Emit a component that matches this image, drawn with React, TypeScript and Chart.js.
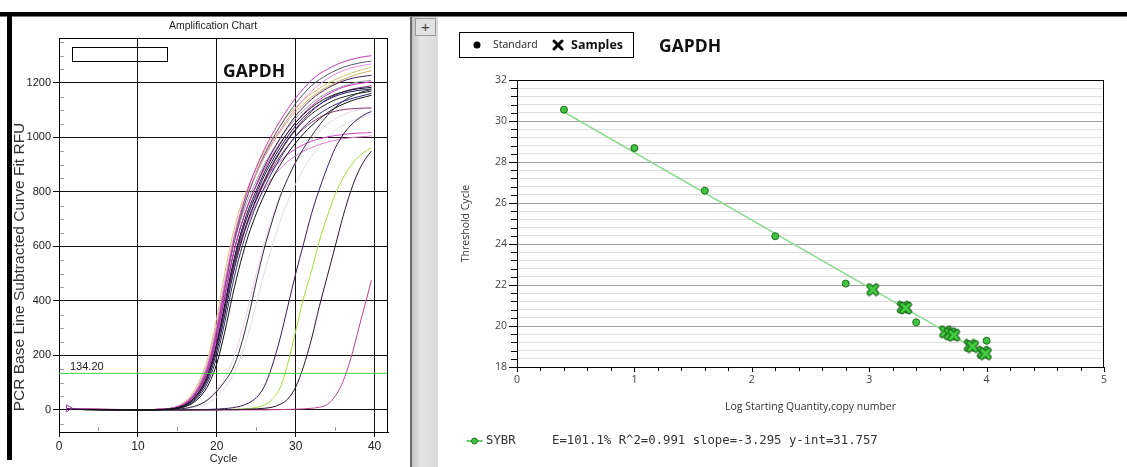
import React, { useEffect, useRef } from 'react';
import { Chart, registerables } from 'chart.js';

Chart.register(...registerables);

// ================= Amplification chart (left) =================
const cycles = [1, 10, 14, 15, 16, 17, 18, 19, 20, 21, 22, 23, 24, 25, 26, 27, 28, 29, 30, 31, 32, 33, 34, 35, 36, 37, 38, 39, 39.6];
const thresholdRFU = 134.2;
const ampXRange = [0, 41.7];
const ampYRange = [-81, 1365];
const startMarker = [{ x: 1.2, y: 6 }];

// early cluster (Ct ~18-22)
const tanEarly = [4, 1, 6, 14, 32, 65, 120, 205, 340, 500, 640, 745, 820, 885, 945, 995, 1040, 1080, 1110, 1138, 1160, 1180, 1198, 1212, 1225, 1236, 1245, 1253, 1258];
const tanSecond = [3, 1, 5, 12, 28, 57, 105, 180, 305, 460, 605, 715, 795, 865, 925, 975, 1020, 1060, 1095, 1122, 1148, 1168, 1186, 1200, 1213, 1224, 1234, 1241, 1245];
const magentaTop = [5, 1, 5, 11, 25, 52, 98, 172, 295, 450, 600, 720, 815, 890, 955, 1010, 1060, 1105, 1145, 1180, 1210, 1233, 1250, 1265, 1277, 1286, 1293, 1298, 1300];
const grayDark = [3, 1, 4, 10, 24, 50, 95, 170, 290, 440, 590, 705, 795, 870, 935, 990, 1040, 1085, 1125, 1160, 1190, 1212, 1230, 1245, 1257, 1266, 1273, 1278, 1280];
const purpleDark = [2, 1, 4, 10, 22, 46, 88, 155, 270, 415, 560, 670, 755, 825, 890, 945, 995, 1040, 1080, 1112, 1140, 1162, 1180, 1195, 1207, 1216, 1222, 1226, 1228];
const grayLight = [3, 1, 5, 12, 27, 55, 102, 178, 300, 450, 590, 695, 775, 840, 900, 950, 995, 1035, 1070, 1100, 1125, 1146, 1163, 1177, 1188, 1197, 1204, 1208, 1210];
const black1 = [2, 0, 3, 8, 19, 40, 78, 140, 245, 385, 530, 645, 735, 805, 870, 925, 975, 1018, 1055, 1085, 1110, 1130, 1146, 1158, 1167, 1174, 1179, 1182, 1184];
const navy1 = [2, 0, 3, 8, 18, 38, 74, 133, 233, 370, 515, 630, 720, 792, 858, 912, 962, 1005, 1043, 1075, 1100, 1121, 1138, 1151, 1161, 1168, 1173, 1176, 1178];
const black2 = [2, 0, 3, 7, 16, 34, 67, 122, 215, 345, 490, 605, 698, 772, 838, 895, 945, 990, 1028, 1060, 1086, 1107, 1124, 1138, 1148, 1156, 1162, 1167, 1170];
const navy2 = [2, 0, 2, 6, 14, 30, 60, 110, 195, 320, 460, 578, 672, 750, 815, 872, 922, 967, 1005, 1038, 1065, 1087, 1105, 1120, 1132, 1142, 1150, 1157, 1162];
const black3 = [2, 0, 2, 5, 12, 26, 52, 96, 170, 285, 420, 540, 640, 720, 788, 847, 898, 942, 980, 1014, 1043, 1068, 1090, 1108, 1122, 1134, 1143, 1150, 1155];
const darkLate = [2, 0, 1, 3, 6, 12, 22, 40, 68, 105, 150, 230, 340, 470, 590, 690, 780, 850, 910, 960, 1005, 1045, 1080, 1110, 1133, 1150, 1163, 1172, 1176];
const magenta1018 = [3, 1, 4, 9, 20, 42, 80, 145, 250, 390, 530, 640, 720, 785, 840, 880, 912, 938, 958, 974, 986, 995, 1002, 1007, 1011, 1014, 1016, 1017, 1018];
const pink1005 = [3, 1, 4, 8, 18, 38, 72, 130, 228, 360, 495, 605, 690, 755, 808, 850, 885, 912, 933, 950, 963, 974, 983, 990, 995, 999, 1002, 1004, 1006];
const plum1108 = [3, 1, 4, 9, 20, 42, 80, 142, 240, 370, 505, 615, 700, 770, 832, 885, 930, 970, 1004, 1032, 1055, 1073, 1087, 1096, 1102, 1105, 1107, 1108, 1108];
const magenta1204 = [3, 1, 5, 11, 24, 50, 92, 160, 270, 415, 560, 670, 755, 822, 882, 932, 978, 1018, 1055, 1088, 1115, 1138, 1157, 1172, 1184, 1192, 1198, 1202, 1204];
const pink1270 = [3, 1, 5, 12, 28, 58, 108, 188, 315, 470, 615, 725, 805, 870, 928, 980, 1026, 1068, 1105, 1140, 1170, 1195, 1215, 1232, 1245, 1255, 1262, 1267, 1270];
const purple1190 = [2, 1, 3, 8, 18, 38, 72, 130, 225, 360, 500, 612, 700, 775, 842, 900, 950, 994, 1032, 1066, 1095, 1120, 1140, 1155, 1167, 1176, 1182, 1187, 1190];
const faintPink = [2, 0, 1, 3, 6, 12, 24, 44, 75, 120, 180, 270, 380, 500, 610, 705, 785, 850, 905, 950, 990, 1022, 1048, 1068, 1083, 1094, 1102, 1108, 1112];
const faintGray = [2, 0, 1, 2, 4, 8, 15, 28, 48, 80, 125, 190, 280, 390, 500, 600, 690, 765, 830, 885, 930, 968, 1000, 1025, 1045, 1060, 1072, 1080, 1085];
// late curves
const latePurple = [3, 0, 0, 0, 0, 1, 1, 2, 3, 5, 8, 14, 25, 45, 85, 160, 260, 380, 500, 610, 720, 810, 890, 960, 1010, 1045, 1070, 1088, 1095];
const lateGreen = [2, 0, 0, 0, 0, 0, 0, 0, 1, 1, 2, 3, 5, 9, 18, 38, 80, 170, 290, 410, 510, 620, 710, 790, 850, 897, 930, 952, 962];
const lateDark = [2, 0, 0, 0, 0, 0, 0, 0, 0, 1, 1, 2, 3, 4, 6, 10, 20, 40, 84, 160, 260, 380, 490, 600, 710, 805, 878, 928, 950];
const lateMagenta = [2, 0, 0, 0, 0, 0, 0, 0, 0, 0, 0, 0, 0, 0, 0, 1, 1, 2, 3, 4, 6, 10, 20, 50, 105, 190, 300, 410, 476];

// drawing order (first = on top)
const ampCurves = [black1, black3, black2, navy1, navy2, darkLate, latePurple, lateDark, lateMagenta, lateGreen,
  magenta1018, pink1005, magentaTop, magenta1204, pink1270, plum1108, purple1190, purpleDark, grayDark,
  tanEarly, tanSecond, grayLight, faintPink, faintGray];
const ampColors = ['#141414', '#0e0e0e', '#222222', '#1e1e66', '#2a2a78', '#2e2e3e', '#3c1a56', '#2c1630', '#c0448e', '#a2de3a',
  '#d244c8', '#e27ad6', '#c43cb4', '#cc2ec0', '#e48ae0', '#8e3a6e', '#6e2a86', '#4b1d5e', '#555566',
  '#d8c070', '#c9b45a', '#9a9aaa', '#ecd2e8', '#dcdce8'];

// ================= Standard curve (right) =================
const standardLogQty = [0.4, 1.0, 1.6, 2.2, 2.8, 3.4, 4.0];
const standardCt = [30.55, 28.68, 26.6, 24.38, 22.07, 20.18, 19.28];
const sampleLogQty = [3.03, 3.29, 3.31, 3.65, 3.69, 3.72, 3.86, 3.88, 3.97, 3.99];
const sampleCt = [21.78, 20.92, 20.88, 19.72, 19.62, 19.55, 19.05, 19.0, 18.72, 18.65];
const fitLogQty = [0.4, 4.0];
const fitCt = [30.44, 18.58];
const stdXRange = [0, 5];
const stdYRange = [18, 32];
const fitText = 'E=101.1% R^2=0.991 slope=-3.295 y-int=31.757';

const LF = '"Liberation Sans", Arial, sans-serif';
const RF = '"Open Sans", sans-serif';
const MONO = '"DejaVu Sans Mono", monospace';

const isInt = (v: number) => Math.abs(v - Math.round(v)) < 1e-6;
const isEvenInt = (v: number) => isInt(v) && Math.round(v) % 2 === 0;

function AmpChart() {
  const ref = useRef<HTMLCanvasElement>(null);
  useEffect(() => {
    const datasets: any[] = [];
    datasets.push({
      data: [{ x: ampXRange[0], y: thresholdRFU }, { x: ampXRange[1], y: thresholdRFU }],
      borderColor: '#45d045', borderWidth: 1, pointRadius: 0, tension: 0,
    });
    datasets.push({
      data: startMarker, showLine: false, pointStyle: 'triangle', rotation: 90, pointRadius: 4,
      borderColor: '#9a3aa8', backgroundColor: 'rgba(0,0,0,0)', borderWidth: 1,
    });
    ampCurves.forEach((vals, i) => {
      datasets.push({
        data: vals.map((v, j) => ({ x: cycles[j], y: v })),
        borderColor: ampColors[i], borderWidth: 1, pointRadius: 0,
        cubicInterpolationMode: 'monotone',
      });
    });
    const decor = {
      id: 'ampDecor',
      afterDraw(chart: any) {
        const { ctx, chartArea: a, scales } = chart;
        const x = scales.x, y = scales.y;
        ctx.save();
        ctx.strokeStyle = '#000';
        ctx.lineWidth = 1;
        ctx.beginPath();
        ctx.moveTo(a.left, a.top + 0.5); ctx.lineTo(a.right, a.top + 0.5);
        ctx.moveTo(a.right - 0.5, a.top); ctx.lineTo(a.right - 0.5, a.bottom);
        ctx.stroke();
        // minor ticks
        ctx.strokeStyle = '#9a9a9a';
        ctx.beginPath();
        for (let v = Math.ceil(y.min / 50) * 50; v <= y.max; v += 50) {
          if (v % 200 === 0) continue;
          const py = Math.round(y.getPixelForValue(v)) + 0.5;
          ctx.moveTo(a.left + 1, py); ctx.lineTo(a.left + 5, py);
        }
        for (let v = 5; v < x.max; v += 10) {
          const px = Math.round(x.getPixelForValue(v)) + 0.5;
          ctx.moveTo(px, a.bottom - 1); ctx.lineTo(px, a.bottom - 5);
        }
        ctx.stroke();
        // threshold label
        ctx.fillStyle = '#222';
        ctx.font = `11px ${LF}`;
        ctx.textAlign = 'left';
        ctx.textBaseline = 'bottom';
        ctx.fillText(thresholdRFU.toFixed(2), a.left + 11, y.getPixelForValue(thresholdRFU) - 1);
        // title
        ctx.textAlign = 'center';
        ctx.textBaseline = 'middle';
        ctx.font = `10.5px ${LF}`;
        ctx.fillText('Amplification Chart', 201, 9);
        // empty legend rect
        ctx.strokeStyle = '#000';
        ctx.strokeRect(60.5, 30.5, 95, 14);
        // GAPDH
        ctx.fillStyle = '#111';
        ctx.font = `bold 17.5px ${RF}`;
        ctx.fillText('GAPDH', 242, 55);
        // axis titles
        ctx.fillStyle = '#222';
        ctx.font = `11px ${LF}`;
        ctx.fillText('Cycle', (a.left + a.right) / 2, 442);
        ctx.translate(7.5, 250);
        ctx.rotate(-Math.PI / 2);
        ctx.fillStyle = '#333';
        ctx.textBaseline = 'middle';
        ctx.font = `15.5px ${LF}`;
        ctx.fillText('PCR Base Line Subtracted Curve Fit RFU', 0, 0);
        ctx.restore();
      },
    };
    const chart = new Chart(ref.current!, {
      type: 'line',
      data: { datasets },
      options: {
        animation: false,
        responsive: false,
        maintainAspectRatio: false,
        layout: { padding: { top: 21, right: 20, left: 0, bottom: 0 } },
        plugins: { legend: { display: false }, tooltip: { enabled: false } },
        scales: {
          x: {
            type: 'linear', min: ampXRange[0], max: ampXRange[1],
            afterFit: (s: any) => { s.height = 35; },
            ticks: { stepSize: 10, includeBounds: false, maxRotation: 0, font: { family: LF, size: 12 }, color: '#222', padding: 2, callback: (v: any) => String(v) },
            grid: { color: '#111', lineWidth: 1, drawTicks: true, tickLength: 5, tickColor: '#111' },
            border: { color: '#000', width: 1 },
          },
          y: {
            min: ampYRange[0], max: ampYRange[1],
            afterFit: (s: any) => { s.width = 47; },
            ticks: { stepSize: 200, includeBounds: false, font: { family: LF, size: 11 }, color: '#222', padding: 2, callback: (v: any) => String(v) },
            grid: { color: '#111', lineWidth: 1, drawTicks: true, tickLength: 6, tickColor: '#111' },
            border: { color: '#000', width: 1 },
          },
        },
      } as any,
      plugins: [decor],
    });
    return () => chart.destroy();
  }, []);
  return <canvas ref={ref} width={396} height={450} style={{ position: 'absolute', left: 12, top: 17, width: 396, height: 450 }} />;
}

function makeCrossImage() {
  const c = document.createElement('canvas');
  c.width = 14; c.height = 14;
  const g = c.getContext('2d')!;
  g.lineCap = 'round';
  const path = () => { g.beginPath(); g.moveTo(3.5, 3.5); g.lineTo(10.5, 10.5); g.moveTo(10.5, 3.5); g.lineTo(3.5, 10.5); };
  g.strokeStyle = '#1f6a1f'; g.lineWidth = 5.5; path(); g.stroke();
  g.strokeStyle = '#3fd23f'; g.lineWidth = 3; path(); g.stroke();
  return c;
}

function StdChart() {
  const ref = useRef<HTMLCanvasElement>(null);
  useEffect(() => {
    const cross = makeCrossImage();
    const decor = {
      id: 'stdDecor',
      afterDraw(chart: any) {
        const { ctx, chartArea: a, scales } = chart;
        const x = scales.x, y = scales.y;
        ctx.save();
        ctx.strokeStyle = '#000';
        ctx.lineWidth = 1;
        ctx.beginPath();
        ctx.moveTo(a.left, a.top + 0.5); ctx.lineTo(a.right, a.top + 0.5);
        ctx.moveTo(a.right - 0.5, a.top); ctx.lineTo(a.right - 0.5, a.bottom);
        y.ticks.forEach((t: any) => {
          const py = Math.round(y.getPixelForValue(t.value)) + 0.5;
          const len = isEvenInt(t.value) ? 8 : 6;
          ctx.moveTo(a.left - len, py); ctx.lineTo(a.left, py);
        });
        x.ticks.forEach((t: any) => {
          const px = Math.round(x.getPixelForValue(t.value)) + 0.5;
          const len = isInt(t.value) ? 5 : 4;
          ctx.moveTo(px, a.bottom); ctx.lineTo(px, a.bottom + len);
        });
        ctx.stroke();
        // legend box
        ctx.strokeRect(21.5, 15.5, 174, 25);
        ctx.fillStyle = '#000';
        ctx.beginPath(); ctx.arc(39, 28, 3.5, 0, Math.PI * 2); ctx.fill();
        ctx.lineWidth = 3; ctx.lineCap = 'round';
        ctx.beginPath(); ctx.moveTo(116, 24); ctx.lineTo(124, 32); ctx.moveTo(124, 24); ctx.lineTo(116, 32); ctx.stroke();
        ctx.fillStyle = '#222';
        ctx.textBaseline = 'middle';
        ctx.textAlign = 'left';
        ctx.font = `10.5px ${RF}`;
        ctx.fillText('Standard', 55, 28);
        ctx.fillStyle = '#111';
        ctx.font = `bold 12.5px ${RF}`;
        ctx.fillText('Samples', 133, 28);
        ctx.font = `bold 17.5px ${RF}`;
        ctx.fillText('GAPDH', 221, 30);
        // axis titles
        ctx.fillStyle = '#333';
        ctx.textAlign = 'center';
        ctx.font = `10.5px ${RF}`;
        ctx.fillText('Log Starting Quantity,copy number', (a.left + a.right) / 2, 390);
        ctx.save();
        ctx.translate(28, (a.top + a.bottom) / 2);
        ctx.rotate(-Math.PI / 2);
        ctx.fillText('Threshold Cycle', 0, 0);
        ctx.restore();
        // bottom legend
        ctx.strokeStyle = '#3cb83c'; ctx.lineWidth = 1.5;
        ctx.beginPath(); ctx.moveTo(29, 424); ctx.lineTo(44, 424); ctx.stroke();
        ctx.fillStyle = '#3ec43e'; ctx.strokeStyle = '#1e6e1e'; ctx.lineWidth = 1;
        ctx.beginPath(); ctx.arc(36.5, 424, 3, 0, Math.PI * 2); ctx.fill(); ctx.stroke();
        ctx.fillStyle = '#333';
        ctx.textAlign = 'left';
        ctx.font = `12.3px ${MONO}`;
        ctx.fillText('SYBR', 48, 424);
        ctx.fillText(fitText, 114, 424);
        ctx.restore();
      },
    };
    const chart = new Chart(ref.current!, {
      type: 'scatter',
      data: {
        datasets: [
          {
            data: standardLogQty.map((v, i) => ({ x: v, y: standardCt[i] })),
            pointStyle: 'circle', pointRadius: 3.5, backgroundColor: '#3ec43e', borderColor: '#1e6e1e', borderWidth: 1,
          },
          {
            data: sampleLogQty.map((v, i) => ({ x: v, y: sampleCt[i] })),
            pointStyle: cross, pointRadius: 7,
          },
          {
            data: fitLogQty.map((v, i) => ({ x: v, y: fitCt[i] })),
            showLine: true, pointRadius: 0, borderColor: '#8edc8e', borderWidth: 1.5,
          },
        ],
      },
      options: {
        animation: false,
        responsive: false,
        maintainAspectRatio: false,
        layout: { padding: { top: 63, right: 23, left: 0, bottom: 0 } },
        plugins: { legend: { display: false }, tooltip: { enabled: false } },
        scales: {
          x: {
            type: 'linear', min: stdXRange[0], max: stdXRange[1],
            afterFit: (s: any) => { s.height = 100; },
            ticks: {
              stepSize: 0.2, autoSkip: false, maxTicksLimit: 100, maxRotation: 0, includeBounds: false,
              callback: (v: any) => (isInt(v) ? String(Math.round(v)) : ''),
              font: { family: RF, size: 10.5 }, color: '#444', padding: 7,
            },
            grid: { drawOnChartArea: false, drawTicks: false },
            border: { color: '#000', width: 1 },
          },
          y: {
            min: stdYRange[0], max: stdYRange[1],
            afterFit: (s: any) => { s.width = 79; },
            ticks: {
              stepSize: 0.4, autoSkip: false, maxTicksLimit: 100, includeBounds: false,
              callback: (v: any) => (isEvenInt(v) ? String(Math.round(v)) : ''),
              font: { family: RF, size: 10.5 }, color: '#444', padding: 10,
            },
            grid: {
              drawTicks: false, lineWidth: 1,
              color: (c: any) => (c.tick && isEvenInt(c.tick.value) ? '#a0a0a0' : '#dedede'),
            },
            border: { color: '#000', width: 1 },
          },
        },
      } as any,
      plugins: [decor],
    });
    return () => chart.destroy();
  }, []);
  return <canvas ref={ref} width={689} height={450} style={{ position: 'absolute', left: 438, top: 17, width: 689, height: 450 }} />;
}

export default function App() {
  return (
    <div style={{ position: 'absolute', left: 0, top: 0, width: 1127, height: 467, background: '#fff', overflow: 'hidden' }}>
      <div style={{ position: 'absolute', left: 0, top: 12, width: 1127, height: 4, background: '#000' }} />
      <div style={{ position: 'absolute', left: 0, top: 16, width: 1127, height: 1, background: '#777' }} />
      <div style={{ position: 'absolute', left: 7, top: 12, width: 5, height: 448, background: '#000' }} />
      <div style={{ position: 'absolute', left: 410, top: 17, width: 2, height: 450, background: '#6a6a6a' }} />
      <div style={{ position: 'absolute', left: 412, top: 17, width: 26, height: 450, background: 'linear-gradient(to right, #c4c4c4, #e4e4e4 35%, #dadada 100%)' }} />
      <div style={{ position: 'absolute', left: 415, top: 18, width: 21, height: 18, background: '#e2e2e2', border: '1px solid #9a9a9a', boxSizing: 'border-box', font: '15px "Liberation Sans", sans-serif', color: '#444', textAlign: 'center', lineHeight: '15px' }}>+</div>
      <AmpChart />
      <StdChart />
    </div>
  );
}
